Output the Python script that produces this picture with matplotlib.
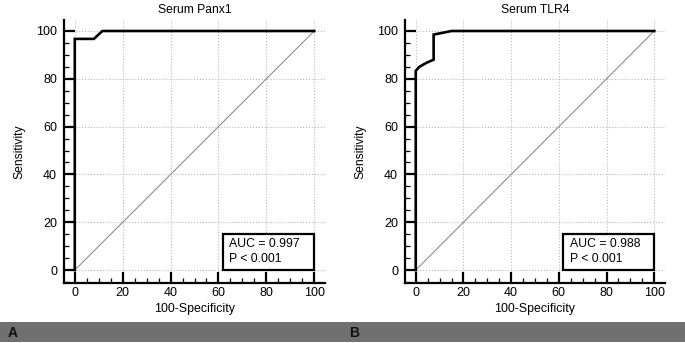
import matplotlib
matplotlib.use("Agg")
import matplotlib.pyplot as plt
from matplotlib.ticker import MultipleLocator
from matplotlib.patches import Rectangle

plt.rcParams['font.family'] = ['Liberation Sans', 'DejaVu Sans']

titles = ["Serum Panx1", "Serum TLR4"]
panel_letters = ["A", "B"]
roc_x = [
    [0, 0, 8, 11.5, 100],
    [0, 0, 1.5, 4.5, 7.5, 7.5, 15, 100],
]
roc_y = [
    [0, 96.7, 96.7, 100, 100],
    [0, 83.3, 85.0, 86.7, 88.0, 98.5, 100, 100],
]
auc_texts = ["AUC = 0.997", "AUC = 0.988"]
p_texts = ["P < 0.001", "P < 0.001"]
ticks = [0, 20, 40, 60, 80, 100]

W, H = 685, 343
fig = plt.figure(figsize=(W / 100, H / 100), dpi=100)

lefts = [64, 405]
rights = [325, 665]
top_px, bottom_px = 20, 283

for i in range(2):
    ax = fig.add_axes([lefts[i] / W, 1 - bottom_px / H,
                       (rights[i] - lefts[i]) / W, (bottom_px - top_px) / H])
    ax.set_xlim(-4.5, 104.5)
    ax.set_ylim(-5.4, 104.6)
    for s in ['top', 'right']:
        ax.spines[s].set_visible(False)
    for s in ['left', 'bottom']:
        ax.spines[s].set_linewidth(1.6)
    ax.set_xticks(ticks)
    ax.set_yticks(ticks)
    ax.xaxis.set_minor_locator(MultipleLocator(5))
    ax.yaxis.set_minor_locator(MultipleLocator(5))
    ax.tick_params(which='major', direction='in', length=8, width=1.6,
                   labelsize=9)
    ax.tick_params(axis='y', which='major', pad=5)
    ax.tick_params(axis='x', which='major', pad=3)
    ax.tick_params(which='minor', direction='in', length=3.5, width=0.9)
    ax.grid(True, which='major', color='#b8b8b8', linestyle=':', linewidth=0.8)
    ax.set_axisbelow(True)
    # diagonal reference
    ax.plot([0, 100], [0, 100], color='#808080', linewidth=0.7)
    ax.plot(roc_x[i], roc_y[i], color='black', linewidth=1.9,
            solid_joinstyle='miter')
    ax.set_title(titles[i], fontsize=8.7, pad=5)
    ax.set_xlabel("100-Specificity", fontsize=8.9, labelpad=3)
    ax.set_ylabel("Sensitivity", fontsize=8.7, labelpad=8)
    # AUC box
    ax.add_patch(Rectangle((61.8, 0), 38.2, 15, fill=True, facecolor='white',
                           edgecolor='black', linewidth=1.6, zorder=5))
    ax.text(64.5, 10.8, auc_texts[i], fontsize=8.8, va='center', ha='left', zorder=6)
    ax.text(64.5, 4.6, p_texts[i], fontsize=8.8, va='center', ha='left', zorder=6)

# gray bar with panel letters
bar = fig.add_axes([0, 1 - 342 / H, 1, 20 / H])
bar.set_xlim(0, W)
bar.set_ylim(0, 1)
bar.axis('off')
bar.add_patch(Rectangle((0, 0), W, 1, color='#707070'))
bar.text(8, 0.45, panel_letters[0], fontsize=10, fontweight='bold', va='center', ha='left',
         color='#111111')
bar.text(349, 0.45, panel_letters[1], fontsize=10, fontweight='bold', va='center', ha='left',
         color='#111111')

fig.savefig("out.png", dpi=100, facecolor='white')
